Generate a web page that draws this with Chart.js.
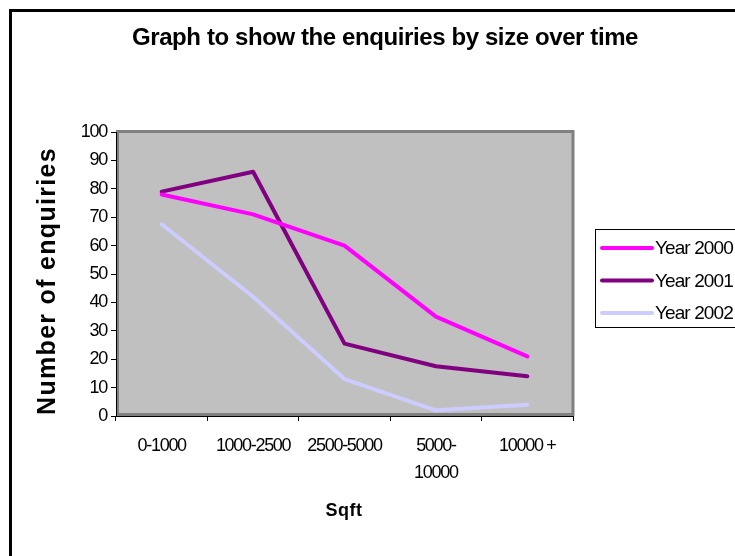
<!DOCTYPE html>
<html>
<head>
<meta charset="utf-8">
<script src="https://cdn.jsdelivr.net/npm/chart.js@4"></script>
<style>
  body { margin: 0; background: #fff; }
</style>
</head>
<body>
<canvas id="Chart" width="735" height="556"></canvas>
<script>
// * Categories (square footage bands)
const categories = ['0-1000', '1000-2500', '2500-5000', ['5000-', '10000'], '10000 +']

// * Enquiries per year
const year2000 = [78, 71, 60, 35, 21]
const year2001 = [79, 86, 25.5, 17.5, 14]
const year2002 = [67.5, 42, 13, 2, 4]

// * Labels
const seriesNames = ['Year 2000', 'Year 2001', 'Year 2002']
const titleText = 'Graph to show the enquiries by size over time'
const yTitle = 'Number of enquiries'
const xTitle = 'Sqft'

const FONT = "'Liberation Sans', Arial, sans-serif"

// * Frame, plot background, titles and legend box
const sheet = {
    id: 'sheet',
    beforeDraw(chart) {
        const ctx = chart.ctx
        const a = chart.chartArea
        ctx.save()
        ctx.fillStyle = '#fff'
        ctx.fillRect(0, 0, chart.width, chart.height)
        // outer frame
        ctx.strokeStyle = '#000'
        ctx.lineWidth = 3
        ctx.strokeRect(10.5, 10.5, chart.width + 20, chart.height + 20)
        // plot area
        ctx.fillStyle = '#c0c0c0'
        ctx.fillRect(a.left, a.top, a.right - a.left, a.bottom - a.top)
        ctx.strokeStyle = '#808080'
        ctx.lineWidth = 3
        ctx.strokeRect(a.left + 1.5, a.top - 0.5, a.right - a.left - 1.5, a.bottom - a.top - 1)
        ctx.restore()
        // tick labels are drawn tight
        ctx.letterSpacing = '-1.3px'
    },
    afterDraw(chart) {
        const ctx = chart.ctx
        ctx.save()
        ctx.fillStyle = '#000'
        ctx.textAlign = 'center'
        ctx.textBaseline = 'middle'

        ctx.letterSpacing = '-0.4px'
        ctx.font = 'bold 24px ' + FONT
        ctx.fillText(titleText, 385, 38)

        ctx.letterSpacing = '1.3px'
        ctx.font = 'bold 25px ' + FONT
        ctx.save()
        ctx.translate(48, 281)
        ctx.rotate(-Math.PI / 2)
        ctx.fillText(yTitle, 0, 0)
        ctx.restore()

        ctx.letterSpacing = '0.5px'
        ctx.font = 'bold 18px ' + FONT
        ctx.fillText(xTitle, 344, 511)

        // legend
        ctx.lineWidth = 1
        ctx.strokeStyle = '#000'
        ctx.strokeRect(595.5, 229.5, 200, 98)
        ctx.letterSpacing = '-0.9px'
        ctx.font = '19px ' + FONT
        ctx.textAlign = 'left'
        chart.data.datasets.forEach((ds, i) => {
            const y = 248 + i * 32.5
            ctx.strokeStyle = ds.borderColor
            ctx.lineWidth = 4
            ctx.lineCap = 'round'
            ctx.beginPath()
            ctx.moveTo(602, y)
            ctx.lineTo(652, y)
            ctx.stroke()
            ctx.fillText(ds.label, 655, y + 1)
        })
        ctx.restore()
        ctx.letterSpacing = '0px'
    }
}

// * Data Block
const data = {
    labels: categories,
    datasets: [{
        label: seriesNames[0],
        data: year2000,
        borderColor: '#ff00ff',
    }, {
        label: seriesNames[1],
        data: year2001,
        borderColor: '#800080',
    }, {
        label: seriesNames[2],
        data: year2002,
        borderColor: '#ccccff',
    }],
}

// * Config Block
const config = {
    type: 'line',
    data,
    options: {
        responsive: false,
        animation: false,
        devicePixelRatio: 1,
        layout: {
            padding: { top: 132, right: 162, left: 0, bottom: 0 }
        },
        elements: {
            line: { borderWidth: 4, tension: 0, borderCapStyle: 'round', borderJoinStyle: 'round' },
            point: { radius: 0, hoverRadius: 0 }
        },
        scales: {
            x: {
                offset: true,
                afterFit: (scale) => { scale.height = 140 },
                border: { display: true, color: '#000', width: 1 },
                grid: { drawOnChartArea: false, drawTicks: true, tickLength: 5, color: '#000', offset: true },
                ticks: {
                    color: '#000',
                    padding: 12,
                    maxRotation: 0,
                    autoSkip: false,
                    font: { family: FONT, size: 18, lineHeight: 1.5 }
                }
            },
            y: {
                min: 0,
                max: 100,
                afterFit: (scale) => { scale.width = 116 },
                border: { display: true, color: '#000', width: 1 },
                grid: { drawOnChartArea: false, drawTicks: true, tickLength: 5, color: '#000' },
                ticks: {
                    stepSize: 10,
                    color: '#000',
                    padding: 4,
                    font: { family: FONT, size: 18 }
                }
            }
        },
        plugins: {
            legend: { display: false },
            title: { display: false },
            tooltip: { enabled: false }
        }
    },
    plugins: [sheet]
}

// * Init / Render Block
const lineChart = new Chart(
    document.getElementById('Chart'),
    config
)
</script>
</body>
</html>
